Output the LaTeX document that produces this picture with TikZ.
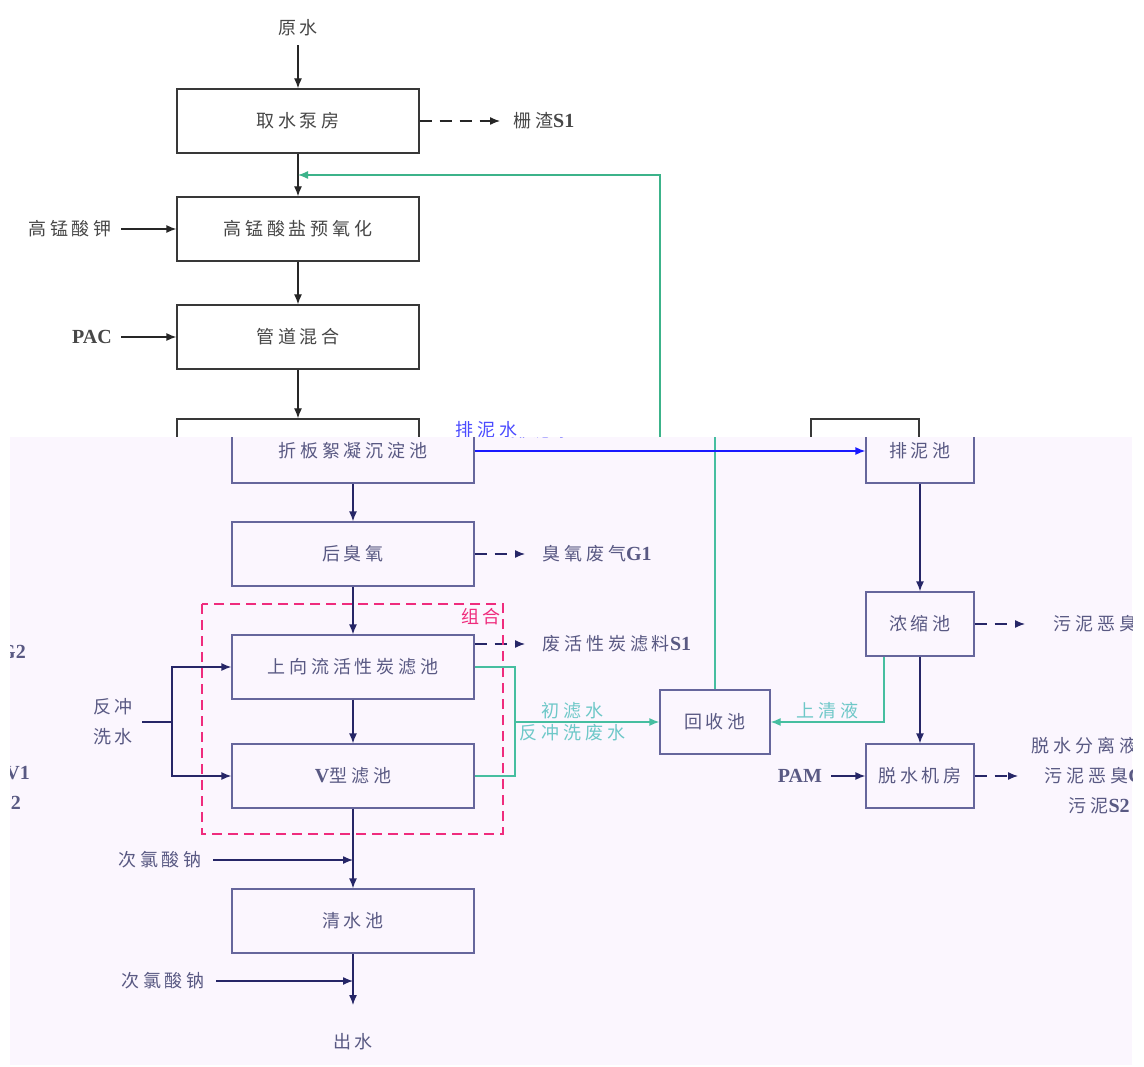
\documentclass[tikz,border=0pt]{standalone}
\usepackage{fontspec}
\setmainfont{Liberation Serif}
\newfontfamily\cjk[LetterSpace=22]{Noto Sans CJK SC}
\usetikzlibrary{arrows.meta,positioning}

\newcommand\zh{\cjk\fontsize{18}{30}\selectfont}
\newcommand\ltn[1]{{\rmfamily\bfseries\fontsize{20}{24}\selectfont #1}}

% layer colours (reset inside each layer)
\colorlet{frame}{black!75}
\colorlet{ink}{black!85}
\colorlet{txt}{black!70}
\colorlet{grn}{green!60!black}
\colorlet{cya}{cyan!60!black}
\colorlet{blu}{blue}
\colorlet{pnk}{magenta}
\definecolor{lav}{RGB}{251,246,254}

\tikzset{
 box/.style={draw=frame,line width=1.3pt,minimum width=242pt,minimum height=64pt,inner sep=0pt,font=\zh,text=txt},
 pool/.style={box,minimum width=108pt},
 tag/.style={font=\zh,text=txt,inner sep=1pt},
 flow/.style={draw=ink,line width=1.3pt,-{Latex[length=10pt,width=8pt]}},
 waste/.style={flow,dash pattern=on 12pt off 8pt},
 back/.style={flow,draw=grn,-{Latex[length=10pt,width=8pt,fill=grn]}},
 wash/.style={draw=grn,line width=1.3pt},
 group/.style={draw=pnk,line width=1.2pt,dash pattern=on 10pt off 6pt},
}

% the whole flowsheet, drawn once per layer
\newcommand\flowsheet{%
 % main line
 \node[tag] (raw) at (353,28) {原水};
 \node[box] (intake) at (353,121) {取水泵房};
 \node[box] (preox) at (353,229) {高锰酸盐预氧化};
 \node[box] (mix) at (353,337) {管道混合};
 \node[box] (settle) at (353,451) {折板絮凝沉淀池};
 \node[box] (ozone) at (353,554) {后臭氧};
 \node[box] (bac) at (353,667) {上向流活性炭滤池};
 \node[box] (vfil) at (353,776) {\ltn{V}型滤池};
 \node[box] (clear) at (353,921) {清水池};
 \coordinate (out) at (353,1005);
 \node[tag] (outw) at (353,1042) {出水};
 \draw[flow,shorten <=8pt] (raw) -- (intake);
 \foreach \a/\b in {intake/preox,preox/mix,mix/settle,settle/ozone,ozone/bac,bac/vfil,vfil/clear,clear/out}
  \draw[flow] (\a) -- (\b);
 % dosing
 \node[tag] (kmno) at (125,229) {高锰酸钾};
 \node[tag] (pac) at (147,337) {\ltn{PAC}};
 \draw[flow,shorten <=8pt] (kmno.east) -- (preox.west);
 \draw[flow,shorten <=8pt] (pac.east) -- (mix.west);
 \node[tag] (naclo1) at (160,860) {次氯酸钠};
 \node[tag] (naclo2) at (163,981) {次氯酸钠};
 \coordinate (dose1) at (353,860);
 \coordinate (dose2) at (353,981);
 \draw[flow,shorten <=10pt] (naclo1.east) -- (dose1);
 \draw[flow,shorten <=10pt] (naclo2.east) -- (dose2);
 % wastes
 \node[tag,anchor=west] (screen) at (567,121) {栅渣\ltn{S1}};
 \node[tag,anchor=west] (offgas) at (541,554) {臭氧废气\ltn{G1}};
 \node[tag,anchor=west] (spent) at (541,644) {废活性炭滤料\ltn{S1}};
 \draw[waste,shorten >=12pt] (intake.east) -- (screen.west);
 \draw[waste,shorten >=16pt] (ozone.east) -- (offgas.west);
 \draw[waste,shorten >=16pt] ([yshift=23pt]bac.east) -- (spent.west);
 % filter group
 \draw[group] (202,604) rectangle (503,834);
 \node[tag,text=pnk] (grp) at (481,617) {组合};
 \node[tag,align=center] (bw) at (113,722) {反冲\\洗水};
 \coordinate (bwj) at (172,722);
 \draw[draw=ink,line width=1.3pt,shorten <=8pt] (bw.east) -- (bwj);
 \draw[flow] (bwj) |- (bac.west);
 \draw[flow] (bwj) |- (vfil.west);
 % recovery
 \node[box,minimum width=110pt] (recov) at (715,722) {回收池};
 \coordinate (jn) at (515,722);
 \coordinate (ret) at (353,175);
 \draw[wash] (bac.east) -| (jn);
 \draw[wash] (vfil.east) -| (jn);
 \draw[back] (jn) -- (recov.west)
  node[pos=.4,above=1pt,tag,text=cya] (first) {初滤水}
  node[pos=.4,below=1pt,tag,text=cya] (bwwaste) {反冲洗废水};
 \draw[back] (recov.north) |- (ret);
 % sludge line
 \node[pool] (sludge) at (920,451) {排泥池};
 \node[pool] (thick) at (920,624) {浓缩池};
 \node[pool] (dewat) at (920,776) {脱水机房};
 \draw[flow,draw=blu,-{Latex[length=10pt,width=8pt,fill=blu]}] (settle.east) -- (sludge.west)
  node[pos=.17,above=11pt,tag,text=blu] (sludgew) {排泥水};
 \draw[flow] (sludge) -- (thick);
 \draw[flow] (thick) -- (dewat);
 \draw[back] ([xshift=-36pt]thick.south) |- (recov.east)
  node[pos=.75,above=1pt,tag,text=cya] (super) {上清液};
 \node[tag] (pam) at (800,776) {\ltn{PAM}};
 \draw[flow,shorten <=8pt] (pam.east) -- (dewat.west);
 \node[tag,anchor=west] (odour) at (1052,624) {污泥恶臭\ltn{G2}};
 \node[tag,anchor=west,align=center] (cake) at (1030,776) {脱水分离液\ltn{W1}\\污泥恶臭\ltn{G2}\\污泥\ltn{S2}};
 \draw[waste,shorten >=27pt] (thick.east) -- (odour.west);
 \draw[waste,shorten >=12pt] (dewat.east) -- (cake.west);
 % cut ends on the left edge
 \node[tag,anchor=east] (fraga) at (27,652) {\ltn{G2}};
 \node[tag,anchor=east] (fragb) at (31,773) {\ltn{V1}};
 \node[tag,anchor=east] (fragc) at (22,803) {\ltn{2}};
}

\begin{document}
\begin{tikzpicture}[x=1pt,y=-1pt]
 \useasboundingbox (0,0) rectangle (1144,1067);
 \fill[white] (0,0) rectangle (1144,1067);
 % upper layer
 \begin{scope}
  \clip (0,0) rectangle (1144,437);
  \colorlet{frame}{black!78}
  \colorlet{ink}{black!85}
  \colorlet{txt}{black!72}
  \definecolor{grn}{RGB}{60,179,138}
  \colorlet{blu}{blue!70!white}
  \begin{scope}[xshift=-55pt]
   \flowsheet
  \end{scope}
 \end{scope}
 % lower layer
 \begin{scope}
  \clip (10,437) rectangle (1132,1065);
  \fill[lav] (10,437) rectangle (1132,1065);
  \colorlet{frame}{blue!35!black!60}
  \colorlet{ink}{blue!30!black!85}
  \colorlet{txt}{blue!25!black!65}
  \definecolor{grn}{RGB}{70,190,160}
  \definecolor{cya}{RGB}{110,200,200}
  \colorlet{blu}{blue!90!white}
  \colorlet{pnk}{magenta!70!red!85!white}
  \flowsheet
 \end{scope}
\end{tikzpicture}
\end{document}
